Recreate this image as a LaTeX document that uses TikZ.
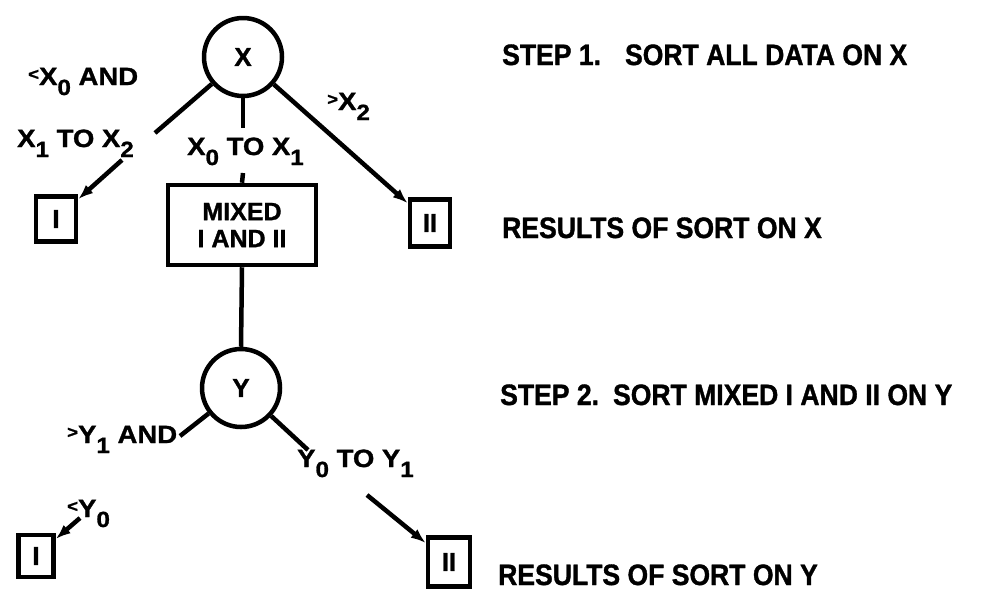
\documentclass[tikz,border=0pt]{standalone}
\usepackage{fontspec}
\setmainfont{Liberation Sans}[BoldFeatures={FakeBold=1.2}]
\newfontfamily\narrowfont{Liberation Sans}[FakeStretch=0.9,BoldFeatures={FakeBold=1.2}]
\newfontfamily\widefont{Liberation Sans}[FakeStretch=1.1,BoldFeatures={FakeBold=1.2}]
\usetikzlibrary{arrows.meta}
\newcommand\lsub[1]{\raisebox{-10pt}{\fontsize{22}{22}\selectfont #1}}
\newcommand\lless[1]{\raisebox{5pt}{\fontsize{17}{17}\selectfont #1}}
\begin{document}
\begin{tikzpicture}[x=1pt,y=-1pt,
  conn/.style={line width=4.5pt},
  arr/.style={line width=4.5pt,-{Latex[length=15pt,width=11pt]}},
  circ/.style={circle,draw,line width=4.5pt,minimum size=78pt,inner sep=0pt,font=\fontsize{26}{26}\selectfont\bfseries},
  sbox/.style={draw,line width=4.5pt,minimum width=40pt,minimum height=45pt,inner sep=0pt,font=\fontsize{26}{26}\selectfont\bfseries},
  mbox/.style={draw,line width=4.5pt,minimum width=148pt,minimum height=80pt,align=center,font=\fontsize{25}{27}\selectfont\bfseries},
  lbl/.style={anchor=base west,inner sep=0pt,font=\widefont\fontsize{25}{25}\selectfont\bfseries},
  note/.style={anchor=base west,inner sep=0pt,font=\narrowfont\fontsize{29.5}{29.5}\selectfont\bfseries}]
\useasboundingbox (0,0) rectangle (981,590);
% nodes
\node[circ] (X) at (243,57) {X};
\node[sbox] (I1) at (56,219) {I};
\node[mbox] (M) at (242,225) {MIXED\\I AND II};
\node[sbox,minimum height=47pt] (II1) at (430,223) {II};
\node[circ] (Y) at (241,388) {Y};
\node[sbox,minimum width=35pt,minimum height=42pt] (I2) at (36,556) {I};
\node[sbox,minimum width=42pt,minimum height=49pt] (II2) at (449,562) {II};
% free ends
\coordinate (xl1) at (155,133);
\coordinate (xl2) at (122,160);
\coordinate (xm1) at (243,128);
\coordinate (xm2) at (243,173);
\coordinate (yl1) at (180,436);
\coordinate (yl2) at (80,518);
\coordinate (yr1) at (308,450);
\coordinate (yr2) at (367,495);
% connectors
\draw[conn] (X) -- (xl1);
\draw[arr] (xl2) -- (I1);
\draw[conn] (X.south) -- (xm1);
\draw[conn] (xm2) -- (M.north);
\draw[arr] (X) -- (II1);
\draw[conn] (M.south) -- (Y.north);
\draw[conn] (Y) -- (yl1);
\draw[arr] (yl2) -- (I2);
\draw[conn] (Y) -- (yr1);
\draw[arr] (yr2) -- (II2);
% labels
\node[lbl] (l1) at (28,85) {\lless{<}X\lsub{0} AND};
\node[lbl] (l2) at (17,147) {X\lsub{1} TO X\lsub{2}};
\node[lbl] (l3) at (327,110) {\lless{>}X\lsub{2}};
\node[lbl] (l4) at (187,155) {X\lsub{0} TO X\lsub{1}};
\node[lbl] (l5) at (67,443) {\lless{>}Y\lsub{1} AND};
\node[lbl] (l6) at (67,517) {\lless{<}Y\lsub{0}};
\node[lbl] (l7) at (297,467) {Y\lsub{0} TO Y\lsub{1}};
% notes
\node[note] (n1) at (502,65) {STEP 1.\hspace{24pt}SORT ALL DATA ON X};
\node[note] (n2) at (502,238) {RESULTS OF SORT ON X};
\node[note] (n3) at (500,405) {STEP 2.\hspace{14pt}SORT MIXED I AND II ON Y};
\node[note] (n4) at (498,585) {RESULTS OF SORT ON Y};
\end{tikzpicture}
\end{document}
